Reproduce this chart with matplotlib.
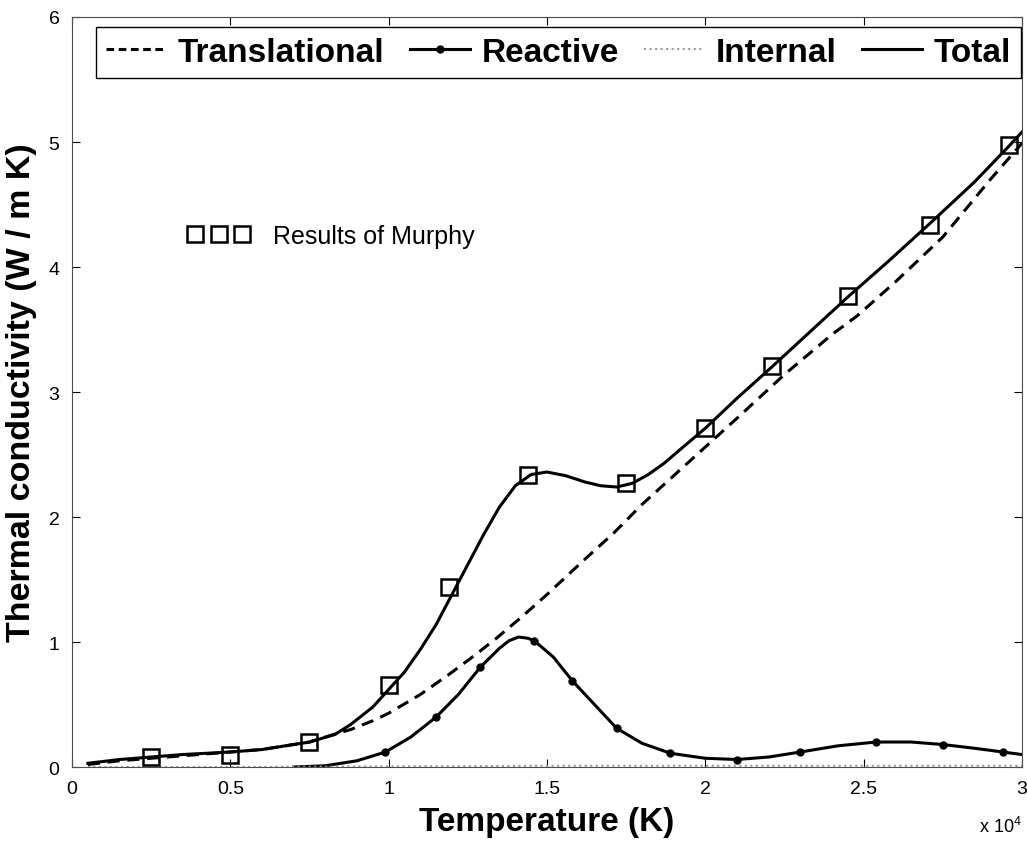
import numpy as np
import matplotlib
matplotlib.use('Agg')
import matplotlib.pyplot as plt
from matplotlib.lines import Line2D

plt.rcParams['font.family'] = ['Liberation Sans', 'DejaVu Sans']
plt.rcParams['mathtext.default'] = 'regular'

# temperatures in units of 1e4 K
trans_T = [0.05, 0.15, 0.25, 0.35, 0.5, 0.6, 0.7, 0.75, 0.8, 0.88, 0.95, 1.0, 1.1, 1.19, 1.27,
           1.34, 1.42, 1.5, 1.61, 1.71, 1.8, 1.9, 2.0, 2.1, 2.25, 2.4, 2.48, 2.6, 2.75, 2.9, 3.0]
trans_k = [0.02, 0.05, 0.07, 0.09, 0.12, 0.14, 0.18, 0.2, 0.24, 0.30, 0.37, 0.43, 0.58, 0.74, 0.89,
           1.03, 1.2, 1.38, 1.64, 1.87, 2.1, 2.33, 2.56, 2.79, 3.14, 3.46, 3.61, 3.88, 4.24, 4.7, 4.99]

react_T = [0.7, 0.8, 0.85, 0.9, 0.99, 1.07, 1.15, 1.22, 1.29, 1.35, 1.38, 1.41, 1.44, 1.46, 1.52,
           1.58, 1.65, 1.72, 1.8, 1.89, 2.0, 2.1, 2.2, 2.3, 2.42, 2.54, 2.65, 2.75, 2.85, 2.94, 3.0]
react_k = [0.0, 0.01, 0.03, 0.05, 0.12, 0.24, 0.40, 0.58, 0.80, 0.95, 1.01, 1.04, 1.03, 1.01, 0.88,
           0.69, 0.50, 0.31, 0.19, 0.11, 0.07, 0.06, 0.08, 0.12, 0.17, 0.2, 0.2, 0.18, 0.15, 0.12, 0.1]
react_dot_T = [0.99, 1.15, 1.29, 1.46, 1.58, 1.72, 1.89, 2.10, 2.30, 2.54, 2.75, 2.94]
react_dot_k = [0.12, 0.40, 0.80, 1.01, 0.69, 0.31, 0.11, 0.06, 0.12, 0.20, 0.18, 0.12]

int_T = [0.05, 0.5, 1.0, 1.5, 2.0, 2.5, 3.0]
int_k = [0.0, 0.0, 0.005, 0.01, 0.01, 0.01, 0.01]

total_T = [0.05, 0.15, 0.25, 0.35, 0.5, 0.6, 0.7, 0.75, 0.83, 0.88, 0.95, 1.0, 1.05, 1.1, 1.15,
           1.2, 1.25, 1.3, 1.35, 1.4, 1.45, 1.5, 1.56, 1.62, 1.67, 1.72, 1.77, 1.82, 1.87, 1.93,
           2.0, 2.1, 2.21, 2.33, 2.45, 2.58, 2.71, 2.85, 2.96, 3.0]
total_k = [0.03, 0.06, 0.08, 0.10, 0.12, 0.14, 0.18, 0.2, 0.26, 0.34, 0.48, 0.62, 0.76, 0.94, 1.14,
           1.38, 1.62, 1.86, 2.08, 2.25, 2.34, 2.36, 2.33, 2.28, 2.25, 2.24, 2.27, 2.34, 2.43, 2.56,
           2.71, 2.95, 3.20, 3.48, 3.76, 4.05, 4.35, 4.68, 4.97, 5.08]

murphy_T = [0.25, 0.5, 0.75, 1.0, 1.19, 1.44, 1.75, 2.0, 2.21, 2.45, 2.71, 2.96]
murphy_k = [0.08, 0.10, 0.20, 0.66, 1.44, 2.34, 2.27, 2.71, 3.21, 3.77, 4.34, 4.98]

fig = plt.figure(figsize=(10.27, 8.45), dpi=100)
ax = fig.add_axes([0.0701, 0.0911, 0.925, 0.8876])

ax.plot(trans_T, trans_k, 'k--', lw=2.2, dashes=(4, 2.5), label='Translational')
ax.plot(react_T, react_k, 'k-', lw=2.2)
ax.plot(react_dot_T, react_dot_k, 'ko', ms=5, ls='none')
ax.plot(int_T, int_k, ls=':', color='0.6', lw=1.5, label='Internal')
ax.plot(total_T, total_k, 'k-', lw=2.2, label='Total')
ax.plot(murphy_T, murphy_k, ls='none', marker='s', ms=11, mfc='none', mec='k', mew=1.8)

handles = [Line2D([], [], color='k', ls='--', lw=2.2, dashes=(2.5, 1.5)),
           Line2D([], [], color='k', ls='-', lw=2.2, marker='o', ms=5),
           Line2D([], [], color='0.6', ls=':', lw=1.5),
           Line2D([], [], color='k', ls='-', lw=2.2)]
leg = ax.legend(handles, ['Translational', 'Reactive', 'Internal', 'Total'], ncol=4,
                loc='upper left', bbox_to_anchor=(0.0253, 0.987), borderaxespad=0,
                prop={'size': 24, 'weight': 'bold'}, handlelength=1.8, handletextpad=0.36,
                columnspacing=0.75, fancybox=False, framealpha=1, edgecolor='k',
                borderpad=0.3)
leg.get_frame().set_linewidth(1.0)
ax.add_artist(leg)

murphy_handle = Line2D([], [], ls='none', marker='s', ms=11, mfc='none', mec='k', mew=1.8)
ax.legend([murphy_handle], ['Results of Murphy'], numpoints=3, loc='center left',
          bbox_to_anchor=(0.1216, 0.708), borderaxespad=0, borderpad=0, frameon=False,
          fontsize=18, handlelength=2.48, handletextpad=0.94)

ax.set_xlim(0, 3)
ax.set_ylim(0, 6)
ax.set_xticks([0, 0.5, 1, 1.5, 2, 2.5, 3])
ax.set_xticklabels(['0', '0.5', '1', '1.5', '2', '2.5', '3'])
ax.set_yticks([0, 1, 2, 3, 4, 5, 6])
ax.tick_params(direction='in', length=6, width=0.8, top=True, right=True, labelsize=14, pad=9)
for s in ax.spines.values():
    s.set_linewidth(0.8)
    s.set_color('0.3')

ax.set_xlabel('Temperature (K)', fontsize=24, fontweight='bold', labelpad=7)
ax.set_ylabel('Thermal conductivity (W / m K)', fontsize=24.5, fontweight='bold', labelpad=8)
ax.text(1.0, -0.078, r'x 10$^4$', transform=ax.transAxes, ha='right', va='center', fontsize=13)

fig.savefig('out.png', dpi=100)
